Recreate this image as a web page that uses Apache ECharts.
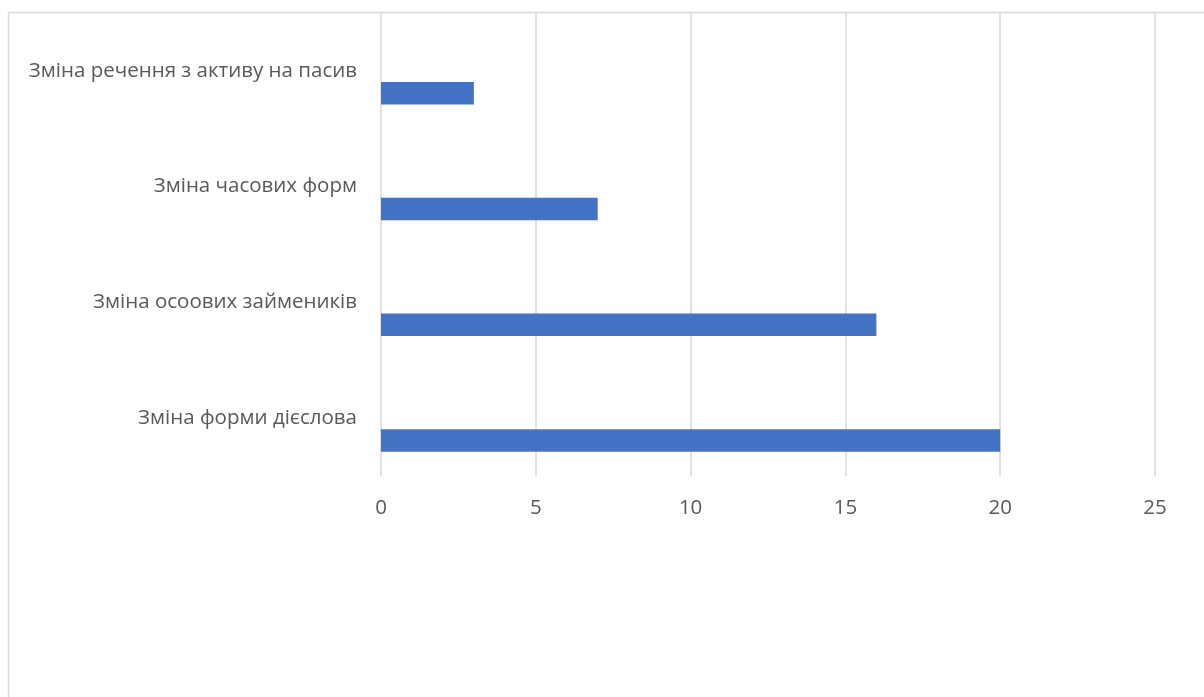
<!DOCTYPE html>
<html><head><meta charset="utf-8">
<script src="https://cdn.jsdelivr.net/npm/echarts@6/dist/echarts.min.js"></script>
<style>html,body{margin:0;padding:0;background:#fff}#c{width:1204px;height:697px}</style>
</head><body><div id="c"></div>
<script>
const categories = ['Зміна форми дієслова', 'Зміна осоових займеників', 'Зміна часових форм', 'Зміна речення з активу на пасив'];
const values = [20, 16, 7, 3];
const xTicks = [0, 5, 10, 15, 20, 25];
const emptySeries = [null, null, null, null];

const chart = echarts.init(document.getElementById('c'));
const font = 'Open Sans';
chart.setOption({
  animation: false,
  grid: {left: 381, right: 49, top: 13, bottom: 221},
  graphic: [
    {type: 'line', shape: {x1: 8.5, y1: 12.5, x2: 1204, y2: 12.5}, style: {stroke: '#d9d9d9', lineWidth: 1.5}, z: 0},
    {type: 'line', shape: {x1: 8.5, y1: 12.5, x2: 8.5, y2: 697}, style: {stroke: '#d9d9d9', lineWidth: 1.5}, z: 0}
  ],
  xAxis: {
    type: 'value', min: xTicks[0], max: xTicks[xTicks.length - 1], interval: 5,
    axisLine: {show: false}, axisTick: {show: false},
    splitLine: {lineStyle: {color: '#d9d9d9', width: 1.5}},
    axisLabel: {color: '#595959', fontFamily: font, fontSize: 20.5, margin: 22}
  },
  yAxis: {
    type: 'category', data: categories,
    axisLine: {show: false}, axisTick: {show: false},
    axisLabel: {color: '#595959', fontFamily: font, fontSize: 20.5, margin: 24}
  },
  series: [
    {type: 'bar', data: emptySeries, barWidth: 22.4, barGap: '0%'},
    {type: 'bar', data: emptySeries, barWidth: 22.4, barGap: '0%'},
    {type: 'bar', data: values, barWidth: 22.4, barGap: '0%', itemStyle: {color: '#4472c4'}}
  ]
});
</script></body></html>
